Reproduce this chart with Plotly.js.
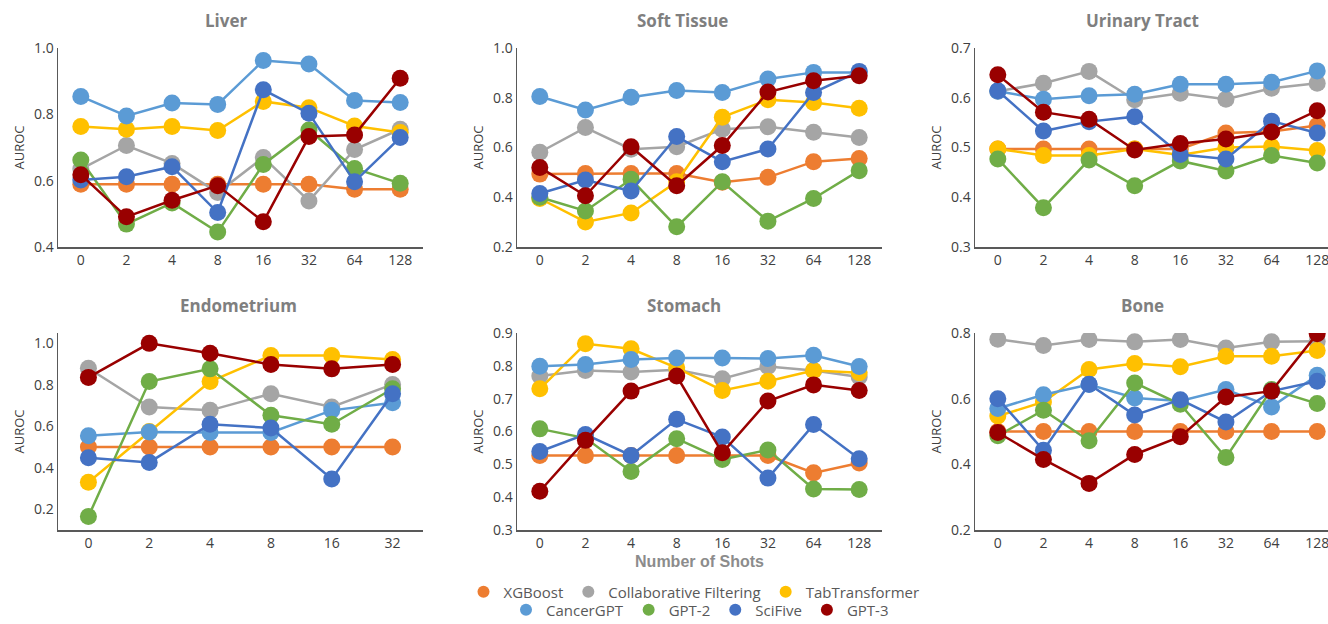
<!DOCTYPE html>
<html>
<head>
<meta charset="utf-8">
<script src="https://cdn.plot.ly/plotly-3.0.1.min.js"></script>
<style>html,body{margin:0;padding:0;background:#fff;}#chart{width:1328px;height:624px;}</style>
</head>
<body>
<div id="chart"></div>
<script>
// ---- Data ----
const shots8 = ['0', '2', '4', '8', '16', '32', '64', '128'];
const shots6 = ['0', '2', '4', '8', '16', '32'];
const models = ['XGBoost', 'Collaborative Filtering', 'TabTransformer', 'CancerGPT', 'GPT-2', 'SciFive', 'GPT-3'];
const modelColors = ['#ED7D31', '#A5A5A5', '#FFC000', '#5B9BD5', '#70AD47', '#4472C4', '#990000'];
const panelTitles = ['Liver', 'Soft Tissue', 'Urinary Tract', 'Endometrium', 'Stomach', 'Bone'];

// rows follow the order of `models`
const liverAUROC = [
  [0.589, 0.589, 0.589, 0.589, 0.589, 0.589, 0.574, 0.574],
  [0.635, 0.706, 0.652, 0.564, 0.670, 0.539, 0.694, 0.755],
  [0.763, 0.755, 0.763, 0.751, 0.839, 0.820, 0.765, 0.745],
  [0.854, 0.795, 0.834, 0.830, 0.962, 0.952, 0.842, 0.836],
  [0.662, 0.469, 0.533, 0.445, 0.649, 0.753, 0.637, 0.592],
  [0.602, 0.612, 0.642, 0.504, 0.874, 0.803, 0.597, 0.730],
  [0.618, 0.491, 0.541, 0.585, 0.476, 0.733, 0.738, 0.909]
];
const softTissueAUROC = [
  [0.493, 0.495, 0.495, 0.495, 0.460, 0.480, 0.543, 0.556],
  [0.581, 0.680, 0.593, 0.603, 0.673, 0.683, 0.661, 0.640],
  [0.395, 0.301, 0.337, 0.462, 0.722, 0.792, 0.781, 0.758],
  [0.805, 0.751, 0.802, 0.829, 0.821, 0.875, 0.902, 0.902],
  [0.400, 0.345, 0.472, 0.281, 0.462, 0.304, 0.395, 0.507],
  [0.415, 0.469, 0.425, 0.644, 0.543, 0.594, 0.821, 0.906],
  [0.520, 0.406, 0.603, 0.446, 0.608, 0.823, 0.868, 0.888]
];
const urinaryTractAUROC = [
  [0.497, 0.497, 0.497, 0.497, 0.497, 0.529, 0.532, 0.544],
  [0.613, 0.629, 0.653, 0.596, 0.609, 0.597, 0.619, 0.629],
  [0.497, 0.484, 0.484, 0.497, 0.485, 0.500, 0.502, 0.494],
  [0.613, 0.597, 0.604, 0.607, 0.627, 0.627, 0.631, 0.654],
  [0.477, 0.379, 0.475, 0.423, 0.473, 0.453, 0.484, 0.469],
  [0.614, 0.533, 0.552, 0.562, 0.486, 0.477, 0.553, 0.529],
  [0.646, 0.571, 0.557, 0.495, 0.508, 0.517, 0.531, 0.574]
];
const endometriumAUROC = [
  [0.500, 0.500, 0.500, 0.500, 0.500, 0.500],
  [0.880, 0.693, 0.677, 0.757, 0.693, 0.802],
  [0.330, 0.575, 0.816, 0.941, 0.941, 0.922],
  [0.554, 0.573, 0.570, 0.570, 0.677, 0.714],
  [0.165, 0.816, 0.877, 0.653, 0.610, 0.781],
  [0.448, 0.426, 0.610, 0.592, 0.346, 0.757],
  [0.836, 1.000, 0.952, 0.898, 0.877, 0.898]
];
const stomachAUROC = [
  [0.527, 0.527, 0.527, 0.527, 0.527, 0.527, 0.474, 0.504],
  [0.769, 0.786, 0.781, 0.788, 0.761, 0.798, 0.786, 0.766],
  [0.730, 0.867, 0.852, 0.794, 0.725, 0.753, 0.786, 0.779],
  [0.799, 0.804, 0.819, 0.824, 0.824, 0.822, 0.832, 0.798],
  [0.608, 0.580, 0.478, 0.578, 0.515, 0.544, 0.425, 0.423],
  [0.539, 0.591, 0.527, 0.637, 0.583, 0.458, 0.621, 0.517],
  [0.418, 0.573, 0.723, 0.769, 0.535, 0.693, 0.742, 0.725]
];
const boneAUROC = [
  [0.500, 0.500, 0.500, 0.500, 0.500, 0.500, 0.500, 0.500],
  [0.781, 0.762, 0.780, 0.773, 0.780, 0.754, 0.773, 0.775],
  [0.547, 0.590, 0.689, 0.707, 0.697, 0.729, 0.729, 0.747],
  [0.570, 0.612, 0.643, 0.602, 0.593, 0.628, 0.575, 0.671],
  [0.487, 0.565, 0.472, 0.648, 0.583, 0.421, 0.628, 0.585],
  [0.600, 0.443, 0.644, 0.550, 0.597, 0.529, 0.623, 0.653],
  [0.497, 0.415, 0.342, 0.430, 0.484, 0.605, 0.623, 0.798]
];

const panelData = [liverAUROC, softTissueAUROC, urinaryTractAUROC, endometriumAUROC, stomachAUROC, boneAUROC];
const panelShots = [shots8, shots8, shots8, shots6, shots8, shots8];
const yRanges = [[0.4, 1.0], [0.2, 1.0], [0.3, 0.7], [0.1, 1.05], [0.3, 0.9], [0.2, 0.8]];
const yDticks = [0.2, 0.2, 0.1, 0.2, 0.1, 0.2];

// ---- Layout geometry (pixels) ----
const W = 1328, H = 624;
const colX = [[58, 423], [517, 882], [975, 1328]];
const rowY = [[48, 247], [333, 530]];
const titlePos = [[226, 21], [683, 21], [1142, 21], [238, 305], [684, 305], [1142, 305]];

const traces = [];
const layout = {
  width: W, height: H,
  margin: {l: 0, r: 0, t: 0, b: 0, autoexpand: false},
  paper_bgcolor: '#ffffff', plot_bgcolor: '#ffffff',
  font: {family: 'Open Sans, sans-serif', color: '#404040', size: 14},
  showlegend: true,
  annotations: [],
  legend: {
    orientation: 'h', x: 694 / W, y: 1 - 592 / H, xanchor: 'center', yanchor: 'middle',
    font: {size: 15, color: '#595959'}, bgcolor: 'rgba(0,0,0,0)', itemclick: false
  },
  legend2: {
    orientation: 'h', x: 700 / W, y: 1 - 610 / H, xanchor: 'center', yanchor: 'middle',
    font: {size: 15, color: '#595959'}, bgcolor: 'rgba(0,0,0,0)', itemclick: false
  }
};

for (let p = 0; p < 6; p++) {
  const col = p % 3, row = Math.floor(p / 3);
  const ax = p === 0 ? '' : String(p + 1);
  const xs = panelShots[p];
  const [x0, x1] = colX[col];
  const [yt, yb] = rowY[row];
  let xr = [-0.5, xs.length - 0.5];
  if (col === 2) {
    // the panel is cut at the right edge of the picture
    const step = (423 - 58) / 8;
    xr = [-0.5, -0.5 + (x1 - x0) / step];
  }
  layout['xaxis' + ax] = {
    domain: [x0 / W, x1 / W], anchor: 'y' + ax, type: 'category', range: xr,
    showline: true, linecolor: '#595959', linewidth: 1.5, showgrid: false, zeroline: false,
    ticks: '', tickfont: {size: 14, color: '#404040'}, fixedrange: true
  };
  layout['yaxis' + ax] = {
    domain: [1 - yb / H, 1 - yt / H], anchor: 'x' + ax, range: yRanges[p],
    dtick: yDticks[p], tick0: 0, tickformat: '.1f',
    showline: true, linecolor: '#595959', linewidth: 1.5, showgrid: false, zeroline: false,
    ticks: '', tickfont: {size: 14, color: '#404040'},
    title: {text: 'AUROC', font: {size: 13, color: '#404040'}, standoff: 6}, fixedrange: true
  };
  if (p === 4) {
    layout['xaxis' + ax].title = {
      text: 'Number of Shots', standoff: 4,
      font: {family: 'Liberation Sans, Arial, sans-serif', size: 16, color: '#8C8C8C', weight: 'bold'}
    };
  }
  layout.annotations.push({
    text: '<b>' + panelTitles[p] + '</b>', xref: 'paper', yref: 'paper',
    x: titlePos[p][0] / W, y: 1 - titlePos[p][1] / H, xanchor: 'center', yanchor: 'middle',
    showarrow: false, font: {size: 17, color: '#7F7F7F'}
  });
  const vals = panelData[p];
  for (let m = 0; m < models.length; m++) {
    traces.push({
      type: 'scatter', mode: 'lines+markers', x: xs, y: vals[m],
      xaxis: 'x' + ax, yaxis: 'y' + ax, name: models[m], showlegend: false,
      line: {color: modelColors[m], width: 2.5},
      marker: {color: modelColors[m], size: 17},
      hoverinfo: 'x+y+name'
    });
  }
}

// legend entries (marker only, as in the original)
for (let m = 0; m < models.length; m++) {
  traces.push({
    type: 'scatter', mode: 'markers', x: [null], y: [null], name: models[m],
    marker: {color: modelColors[m], size: 12}, showlegend: true,
    legend: m < 3 ? 'legend' : 'legend2', xaxis: 'x', yaxis: 'y'
  });
}

Plotly.newPlot('chart', traces, layout, {displayModeBar: false, staticPlot: true});
</script>
</body>
</html>
